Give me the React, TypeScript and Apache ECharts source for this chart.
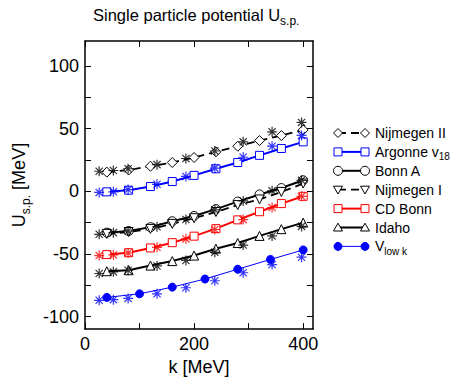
import React, { useEffect, useRef } from 'react';
import * as echarts from 'echarts';

// ---- data ----
const kLine = [40, 80, 120, 160, 200, 240, 280, 320, 360, 400];
const kLowK = [40, 100, 160, 220, 280, 340, 400];
const kStar = [26, 52, 79, 132, 185, 238, 290, 343, 397];

const nijmegen2 = [15.3, 17, 20, 23, 27, 31.5, 36, 40.5, 44.5, 49];
const argonne = [-0.4, 0.9, 3.8, 7.8, 12.7, 18, 23, 28.7, 34.2, 39.5];
const bonnA = [-33, -31.7, -28.6, -23.9, -19.7, -14.2, -8.2, -2.5, 2.6, 8.8];
const nijmegen1 = [-34, -32.5, -30, -26, -21.5, -16.5, -11, -6.5, -0.5, 6.2];
const cdBonn = [-50.5, -49, -45.2, -41, -35.8, -29.8, -22.8, -16.3, -9.8, -4];
const idaho = [-63.8, -63, -59.3, -55.7, -51.3, -45.8, -41.3, -35.6, -30.2, -25];
const vlowk = [-84.7, -81.8, -76.5, -70, -62.2, -54.4, -46.8];

const starNijmegen2 = [16, 16.6, 18, 21.3, 26.2, 32.2, 39.5, 47.5, 55];
const starArgonne = [-0.9, -0.4, 1.4, 5.6, 11.9, 18.5, 27.2, 36, 44.6];
const starBonn = [-34.3, -33, -31.7, -28.3, -22.5, -14.7, -7.7, 0.4, 8.8];
const starCdBonn = [-51.3, -50.8, -49.2, -44.7, -38, -30.5, -22.6, -13, -4];
const starIdaho = [-65.6, -64.3, -63, -59.6, -55.2, -48.7, -42.9, -35.6, -28];
const starVlowk = [-87, -86.5, -85.5, -81.8, -77, -71.4, -65, -58.5, -52.6];

const yTicks = [-100, -75, -50, -25, 0, 25, 50, 75, 100];
const yLabels = [-100, -50, 0, 50, 100];
const xTicks = [0, 100, 200, 300, 400];
const xLabels = [0, 200, 400];

const BLUE = '#0000ff';
const RED = '#ff0000';
const BLACK = '#000000';
const FONT = '"Liberation Sans", Arial, Helvetica, sans-serif';

const STAR = 'path://M0,-5L0,5M-5,0L5,0M-3.6,-3.6L3.6,3.6M-3.6,3.6L3.6,-3.6';
const TRI_DOWN = 'path://M0,0L10,0L5,8.66Z';

const zip = (xs: number[], ys: number[]) => xs.map((x, i) => [x, ys[i]]);

type Item = {
  name: string;
  label: string;
  k: number[];
  v: number[];
  color: string;
  symbol: string;
  marker: 'diamond' | 'rect' | 'circle' | 'triDown' | 'triUp' | 'dot';
  dashed: boolean;
  width: number;
  filled: boolean;
  size: number;
};

const items: Item[] = [
  { name: 'Nijmegen II', label: '{a|Nijmegen II}', k: kLine, v: nijmegen2, color: BLACK, symbol: 'diamond', marker: 'diamond', dashed: true, width: 1.8, filled: false, size: 10 },
  { name: 'Argonne v18', label: '{a|Argonne v}{b|18}', k: kLine, v: argonne, color: BLUE, symbol: 'rect', marker: 'rect', dashed: false, width: 2, filled: false, size: 8 },
  { name: 'Bonn A', label: '{a|Bonn A}', k: kLine, v: bonnA, color: BLACK, symbol: 'circle', marker: 'circle', dashed: false, width: 2, filled: false, size: 9 },
  { name: 'Nijmegen I', label: '{a|Nijmegen I}', k: kLine, v: nijmegen1, color: BLACK, symbol: TRI_DOWN, marker: 'triDown', dashed: true, width: 1.8, filled: false, size: 9 },
  { name: 'CD Bonn', label: '{a|CD Bonn}', k: kLine, v: cdBonn, color: RED, symbol: 'rect', marker: 'rect', dashed: false, width: 2, filled: false, size: 8 },
  { name: 'Idaho', label: '{a|Idaho}', k: kLine, v: idaho, color: BLACK, symbol: 'triangle', marker: 'triUp', dashed: false, width: 2, filled: false, size: 9 },
  { name: 'Vlowk', label: '{a|V}{b|low k}', k: kLowK, v: vlowk, color: BLUE, symbol: 'circle', marker: 'dot', dashed: false, width: 1, filled: true, size: 8 },
];

const stars = [
  { v: starNijmegen2, color: BLACK },
  { v: starArgonne, color: BLUE },
  { v: starBonn, color: BLACK },
  { v: starCdBonn, color: RED },
  { v: starIdaho, color: BLACK },
  { v: starVlowk, color: BLUE },
];

// legend layout (positions only)
const LEG_X0 = 338;
const LEG_X1 = 365;
const LEG_TX = 375;
const LEG_Y0 = 133;
const LEG_DY = 18.9;

function markerGraphic(m: Item['marker'], cx: number, cy: number, color: string, filled: boolean): any {
  const style = { fill: filled ? color : '#fff', stroke: color, lineWidth: 1 };
  const s = 4.5;
  switch (m) {
    case 'diamond':
      return { type: 'polygon', shape: { points: [[cx, cy - s], [cx + s, cy], [cx, cy + s], [cx - s, cy]] }, style };
    case 'rect':
      return { type: 'rect', shape: { x: cx - 4, y: cy - 4, width: 8, height: 8 }, style };
    case 'circle':
      return { type: 'circle', shape: { cx, cy, r: 4.5 }, style };
    case 'dot':
      return { type: 'circle', shape: { cx, cy, r: 4 }, style };
    case 'triDown':
      return { type: 'polygon', shape: { points: [[cx - s, cy - 3.5], [cx + s, cy - 3.5], [cx, cy + 4.3]] }, style };
    case 'triUp':
    default:
      return { type: 'polygon', shape: { points: [[cx - s, cy + 3.5], [cx + s, cy + 3.5], [cx, cy - 4.3]] }, style };
  }
}

export default function App() {
  const ref = useRef<HTMLDivElement>(null);

  useEffect(() => {
    if (!ref.current) return;
    const chart = echarts.init(ref.current, undefined, { renderer: 'svg' });

    const axisLine = { show: true, onZero: false, lineStyle: { color: BLACK, width: 1.5 } };
    const tickStyle = { color: BLACK, width: 1 };

    const lineSeries = items.map((it) => ({
      type: 'line',
      name: it.name,
      data: zip(it.k, it.v),
      symbol: it.symbol,
      symbolSize: it.size,
      showSymbol: true,
      smooth: false,
      z: 3,
      lineStyle: { color: it.color, width: it.width, type: it.dashed ? [8, 5] : 'solid' },
      itemStyle: { color: it.filled ? it.color : '#fff', borderColor: it.color, borderWidth: 1 },
    }));

    const starSeries = stars.map((s) => ({
      type: 'scatter',
      data: zip(kStar, s.v),
      symbol: STAR,
      symbolSize: 10,
      z: 4,
      itemStyle: { color: 'none', borderColor: s.color, borderWidth: 1.2 },
    }));

    const legend: any[] = [];
    items.forEach((it, i) => {
      const y = LEG_Y0 + i * LEG_DY;
      legend.push({
        type: 'line',
        shape: { x1: LEG_X0, y1: y, x2: LEG_X1, y2: y },
        style: { stroke: it.color, lineWidth: it.width, lineDash: it.dashed ? [8, 5] : null },
        z: 10,
      });
      const a = markerGraphic(it.marker, LEG_X0, y, it.color, it.filled);
      const b = markerGraphic(it.marker, LEG_X1, y, it.color, it.filled);
      a.z = 11;
      b.z = 11;
      legend.push(a, b);
      legend.push({
        type: 'text',
        x: LEG_TX,
        y: y,
        z: 11,
        style: {
          text: it.label,
          fill: BLACK,
          verticalAlign: 'middle',
          align: 'left',
          rich: {
            a: { fontSize: 14, fontFamily: FONT, lineHeight: 20, fill: BLACK },
            b: { fontSize: 10, fontFamily: FONT, lineHeight: 10, verticalAlign: 'bottom', fill: BLACK },
          },
        },
      });
    });

    chart.setOption({
      animation: false,
      backgroundColor: '#fff',
      title: {
        text: '{a|Single particle potential U}{b|s.p.}',
        left: 93,
        top: 3,
        padding: 0,
        textStyle: {
          fontWeight: 'normal',
          fontSize: 16.5,
          rich: {
            a: { fontSize: 16.5, fontFamily: FONT, color: BLACK, lineHeight: 24, fontWeight: 'normal' },
            b: { fontSize: 12, fontFamily: FONT, color: BLACK, lineHeight: 12, verticalAlign: 'bottom', fontWeight: 'normal' },
          },
        },
      },
      grid: { left: 85, right: 139, top: 41, bottom: 46, containLabel: false },
      xAxis: [
        {
          type: 'value',
          min: 0,
          max: 418,
          position: 'bottom',
          axisLine,
          axisTick: { show: true, inside: true, length: 6, lineStyle: tickStyle, customValues: xTicks },
          axisLabel: { show: true, margin: 6, fontSize: 18, fontFamily: FONT, color: BLACK, customValues: xLabels },
          splitLine: { show: false },
          name: 'k [MeV]',
          nameLocation: 'middle',
          nameGap: 22,
          nameTextStyle: { fontSize: 18, fontFamily: FONT, color: BLACK },
        },
        {
          type: 'value',
          min: 0,
          max: 418,
          position: 'top',
          axisLine,
          axisTick: { show: true, inside: true, length: 6, lineStyle: tickStyle, customValues: xTicks },
          axisLabel: { show: false },
          splitLine: { show: false },
        },
      ],
      yAxis: [
        {
          type: 'value',
          min: -110,
          max: 120,
          position: 'left',
          axisLine,
          axisTick: { show: true, inside: true, length: 6, lineStyle: tickStyle, customValues: yTicks },
          axisLabel: { show: true, margin: 6, fontSize: 18, fontFamily: FONT, color: BLACK, customValues: yLabels },
          splitLine: { show: false },
          name: '{a|U}{b|s.p.}{a| [MeV]}',
          nameLocation: 'middle',
          nameGap: 52,
          nameTextStyle: {
            fontSize: 18,
            fontFamily: FONT,
            color: BLACK,
            rich: {
              a: { fontSize: 18, fontFamily: FONT, color: BLACK, lineHeight: 26 },
              b: { fontSize: 12, fontFamily: FONT, color: BLACK, lineHeight: 12, verticalAlign: 'bottom' },
            },
          },
        },
        {
          type: 'value',
          min: -110,
          max: 120,
          position: 'right',
          axisLine,
          axisTick: { show: true, inside: true, length: 6, lineStyle: tickStyle, customValues: yTicks },
          axisLabel: { show: false },
          splitLine: { show: false },
        },
      ],
      series: [...lineSeries, ...starSeries],
      graphic: legend,
    });

    return () => chart.dispose();
  }, []);

  return <div ref={ref} style={{ width: 452, height: 381, position: 'absolute', left: 0, top: 0 }} />;
}
